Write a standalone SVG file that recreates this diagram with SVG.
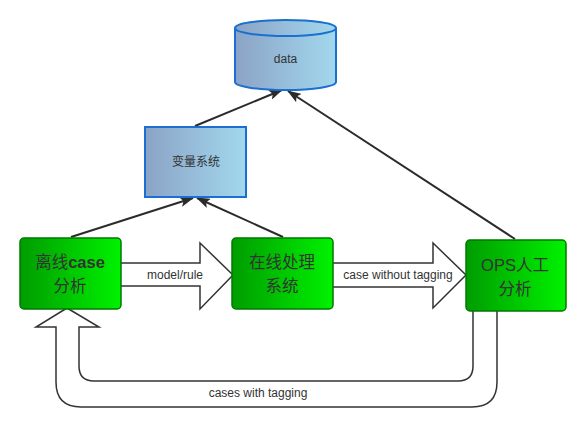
<svg xmlns="http://www.w3.org/2000/svg" width="585" height="432" viewBox="0 0 585 432">
<defs>
<linearGradient id="blue" x1="0" y1="0" x2="1" y2="0">
<stop offset="0" stop-color="#8ba3c6"/>
<stop offset="1" stop-color="#a2d8ee"/>
</linearGradient>
<linearGradient id="green" x1="0" y1="0" x2="1" y2="0">
<stop offset="0" stop-color="#009c00"/>
<stop offset="1" stop-color="#00f200"/>
</linearGradient>
<marker id="ah" markerWidth="14" markerHeight="10" refX="13" refY="5" orient="auto" markerUnits="userSpaceOnUse">
<path d="M0,0 L14,5 L0,10 L3,5 Z" fill="#2b2b2b"/>
</marker>
<style>
.bl{fill:url(#blue);stroke:#1a6fd0;stroke-width:2}
.gr{fill:url(#green);stroke:#007a00;stroke-width:1.5}
.ln{stroke:#2b2b2b;stroke-width:2;fill:none;marker-end:url(#ah)}
.ba{fill:#fff;stroke:#333;stroke-width:1.5;stroke-linejoin:miter}
.t{font-family:"Liberation Sans","Noto Sans CJK SC",sans-serif;fill:#333;text-anchor:middle}
.s{font-size:12px}
.b{font-size:16.5px}
</style>
</defs>
<rect width="585" height="432" fill="#fff"/>
<g id="connectors">
<line class="ln" x1="195" y1="126" x2="282" y2="90"/>
<line class="ln" x1="515" y1="239" x2="288" y2="91"/>
<line class="ln" x1="71" y1="237" x2="193" y2="198"/>
<line class="ln" x1="283" y1="237" x2="197" y2="198"/>
<path class="ba" d="M121,263 L200,263 L200,243 L233,275 L200,309 L200,286 L121,286"/>
<path class="ba" d="M333,263 L433,263 L433,243 L466,275 L433,308 L433,287 L333,287"/>
<path class="ba" d="M473,310 L473,366 Q473,381 458,381 L94,381 Q79,381 79,366 L79,327 L99,327 L67,308 L36,327 L56,327 L56,382 Q56,407 81,407 L472,407 Q497,407 497,382 L497,310"/>
<text class="t s" x="175" y="279">model/rule</text>
<text class="t s" x="398" y="279">case without tagging</text>
<text class="t s" x="258" y="397">cases with tagging</text>
</g>
<g id="data">
<path class="bl" d="M235,28 L235,82 A50.5,8 0 0 0 336,82 L336,28"/>
<ellipse class="bl" cx="285.5" cy="28" rx="50.5" ry="8"/>
<text class="t s" x="285.5" y="63">data</text>
</g>
<g id="var">
<rect class="bl" x="145" y="127" width="101" height="70"/>
<text class="t s" x="196" y="166">变量系统</text>
</g>
<g id="offline">
<rect class="gr" x="20" y="238" width="101" height="71" rx="4"/>
<text class="t b" x="70" y="268">离线<tspan font-weight="bold">case</tspan></text>
<text class="t b" x="70" y="292">分析</text>
</g>
<g id="online">
<rect class="gr" x="232" y="238" width="101" height="71" rx="4"/>
<text class="t b" x="282" y="268">在线处理</text>
<text class="t b" x="282" y="292">系统</text>
</g>
<g id="ops">
<rect class="gr" x="466" y="240" width="100" height="71" rx="4"/>
<text class="t b" x="515" y="271">OPS人工</text>
<text class="t b" x="515" y="295">分析</text>
</g>
</svg>
